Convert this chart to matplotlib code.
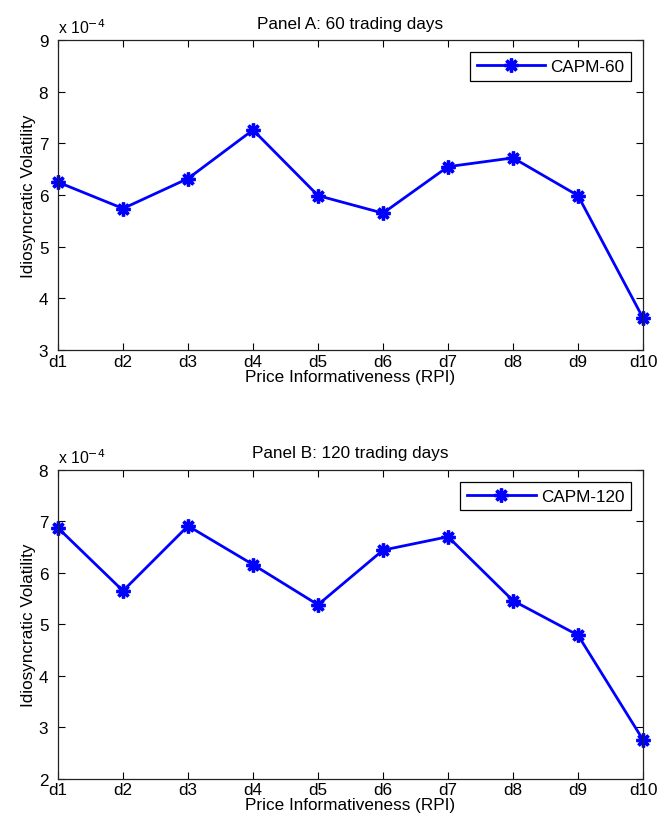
import matplotlib
matplotlib.use("Agg")
import matplotlib.pyplot as plt

categories = ["d1", "d2", "d3", "d4", "d5", "d6", "d7", "d8", "d9", "d10"]
capm60 = [6.25, 5.74, 6.32, 7.26, 5.99, 5.65, 6.55, 6.72, 5.99, 3.62]
capm120 = [6.87, 5.65, 6.91, 6.16, 5.38, 6.44, 6.70, 5.46, 4.79, 2.76]
titles = ["Panel A: 60 trading days", "Panel B: 120 trading days"]
labels = ["CAPM-60", "CAPM-120"]
ylims = [(3, 9), (2, 8)]

plt.rcParams['font.family'] = ['Liberation Sans', 'DejaVu Sans']
fs = 12.3

fig = plt.figure(figsize=(6.57, 8.28), dpi=100)
rects = [[0.0883, 0.576, 0.8904, 0.3744], [0.0883, 0.058, 0.8904, 0.3735]]
x = list(range(1, len(categories) + 1))

for rect, vals, title, lab, yl in zip(rects, [capm60, capm120], titles, labels, ylims):
    ax = fig.add_axes(rect)
    ax.plot(x, vals, color='#0000ff', lw=2.0, marker=(8, 2, 0), markersize=10,
            markeredgewidth=2.4, label=lab, clip_on=False)
    ax.set_xlim(1, 10)
    ax.set_ylim(*yl)
    ax.set_xticks(x)
    ax.set_xticklabels(categories, fontsize=fs)
    ax.set_yticks(range(yl[0], yl[1] + 1))
    ax.tick_params(axis='both', direction='in', top=True, right=True, length=5,
                   width=0.8, labelsize=fs)
    ax.tick_params(axis='x', pad=2.5)
    ax.tick_params(axis='y', pad=7)
    for s in ax.spines.values():
        s.set_linewidth(0.9)
        s.set_color('#222222')
    ax.set_title(title, fontsize=fs, pad=9)
    ax.set_xlabel("Price Informativeness (RPI)", fontsize=fs, labelpad=0)
    ax.set_ylabel("Idiosyncratic Volatility", fontsize=fs, labelpad=2)
    ax.text(0.0, 1.012, r'x 10$^{-4}$', transform=ax.transAxes, fontsize=fs - 1,
            ha='left', va='bottom')
    leg = ax.legend(loc='upper right', fontsize=fs, fancybox=False, framealpha=1,
                    edgecolor='black', borderaxespad=0.7, handlelength=4.0,
                    handletextpad=0.3, borderpad=0.4)
    leg.get_frame().set_linewidth(0.9)

fig.savefig("out.png", dpi=100)
